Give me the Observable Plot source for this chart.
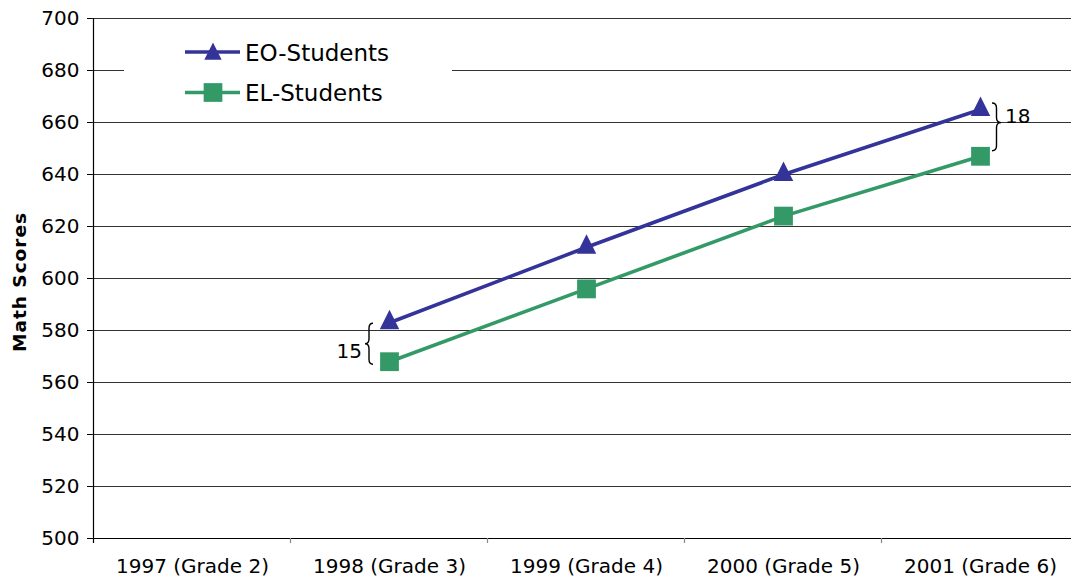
<!DOCTYPE html>
<html><head><meta charset="utf-8">
<script src="https://cdn.jsdelivr.net/npm/d3@7"></script>
<script src="https://cdn.jsdelivr.net/npm/@observablehq/plot@0.6"></script>
<style>
html,body{margin:0;padding:0;background:#fff;overflow:hidden;}
#wrap{position:relative;width:1080px;height:580px;font-family:"DejaVu Sans",Verdana,sans-serif;}
#legend{position:absolute;left:124px;top:26px;width:328px;height:86px;background:#fff;}
</style></head><body><div id="wrap"></div>
<script>
// ---- data ----
const categories = ["1997 (Grade 2)", "1998 (Grade 3)", "1999 (Grade 4)", "2000 (Grade 5)", "2001 (Grade 6)"];
const seriesNames = ["EO-Students", "EL-Students"];
const eoScores = [null, 583, 612, 640, 665];
const elScores = [null, 568, 596, 624, 647];
const seriesColors = ["#333399", "#339966"];
const yTicks = [500, 520, 540, 560, 580, 600, 620, 640, 660, 680, 700];
const yLabel = "Math Scores";
const gapCategories = ["1998 (Grade 3)", "2001 (Grade 6)"];
const gapSides = ["left", "right"];

// ---- build rows ----
function rows(values, name) {
  return categories.map((c, i) => ({cat: c, v: values[i], series: name})).filter(d => d.v != null);
}
const eoRows = rows(eoScores, seriesNames[0]);
const elRows = rows(elScores, seriesNames[1]);
const gaps = gapCategories.map((c, k) => {
  const i = categories.indexOf(c);
  return {cat: c, hi: eoScores[i], lo: elScores[i], side: gapSides[k], label: String(eoScores[i] - elScores[i])};
});

// tall isosceles triangle symbol (width == height)
const triangleSym = {
  draw(ctx, size) {
    const s = Math.sqrt(size);
    ctx.moveTo(0, -s * 2 / 3);
    ctx.lineTo(s / 2, s / 3);
    ctx.lineTo(-s / 2, s / 3);
    ctx.closePath();
  }
};

const font = '"DejaVu Sans", Verdana, sans-serif';

function framePieces(index, scales, values, dims) {
  const g = d3.create("svg:g");
  const x = scales.x, y = scales.y;
  const step = x(categories[1]) - x(categories[0]);
  const yb = y(yTicks[0]), yt = y(yTicks[yTicks.length - 1]);
  const left = x(categories[0]) - step / 2;
  g.append("line").attr("x1", left).attr("x2", left).attr("y1", yt).attr("y2", yb + 5)
    .attr("stroke", "#000").attr("stroke-width", 1.2);
  categories.forEach((c, i) => {
    const xb = x(c) + step / 2;
    g.append("line").attr("x1", xb).attr("x2", xb).attr("y1", yb).attr("y2", yb + 5)
      .attr("stroke", "#888").attr("stroke-width", 1.2);
  });
  return g.node();
}

function bracePath(xTip, xArm, y0, y1, yTip) {
  const xm = (xTip + xArm) / 2;
  const r = Math.min(5, (y1 - y0) / 4);
  return `M${xArm},${y0} Q${xm},${y0} ${xm},${y0 + r} L${xm},${yTip - r} Q${xm},${yTip} ${xTip},${yTip} ` +
         `Q${xm},${yTip} ${xm},${yTip + r} L${xm},${y1 - r} Q${xm},${y1} ${xArm},${y1}`;
}

function braces(index, scales) {
  const g = d3.create("svg:g");
  const x = scales.x, y = scales.y;
  for (const d of gaps) {
    const cx = x(d.cat);
    if (d.side === "left") {
      const y0 = y(d.hi) + 1, y1 = y(d.lo) + 3, ym = (y0 + y1) / 2;
      g.append("path").attr("d", bracePath(cx - 24, cx - 16, y0, y1, ym))
        .attr("fill", "none").attr("stroke", "#000").attr("stroke-width", 1.4);
      g.append("text").attr("x", cx - 27).attr("y", ym + 14).attr("text-anchor", "end")
        .attr("font-family", font).attr("font-size", 20).attr("fill", "#000").text(d.label);
    } else {
      const y0 = y(d.hi) - 6, y1 = y(d.lo) - 5, ym = y0 + (y1 - y0) * 0.41;
      g.append("path").attr("d", bracePath(cx + 21, cx + 12, y0, y1, ym))
        .attr("fill", "none").attr("stroke", "#000").attr("stroke-width", 1.4);
      g.append("text").attr("x", cx + 25).attr("y", ym + 0.5).attr("text-anchor", "start")
        .attr("font-family", font).attr("font-size", 20).attr("fill", "#000").text(d.label);
    }
  }
  return g.node();
}

const chart = Plot.plot({
  width: 1080,
  height: 580,
  marginLeft: 92,
  marginRight: 0,
  marginTop: 18,
  marginBottom: 42,
  style: {fontFamily: font, fontSize: "20px", color: "#000", background: "#fff", overflow: "visible"},
  x: {type: "point", domain: categories, padding: 0.5, label: null},
  y: {domain: [500, 700], label: null},
  marks: [
    Plot.gridY(yTicks, {stroke: "#333", strokeOpacity: 1, strokeWidth: 1.1}),
    Plot.ruleY([yTicks[0]], {stroke: "#000", strokeWidth: 1.2}),
    framePieces,
    Plot.axisY({ticks: yTicks, tickSize: 5, tickPadding: 8, tickFormat: d => String(d), fontSize: 20, label: null}),
    Plot.axisX({tickSize: 0, tickPadding: 20, fontSize: 20, label: null}),
    Plot.line(eoRows, {x: "cat", y: "v", stroke: seriesColors[0], strokeWidth: 3.6}),
    Plot.line(elRows, {x: "cat", y: "v", stroke: seriesColors[1], strokeWidth: 3.6}),
    Plot.dot(eoRows, {x: "cat", y: "v", symbol: triangleSym, r: 11, fill: seriesColors[0], stroke: null}),
    Plot.dot(elRows, {x: "cat", y: "v", symbol: "square", r: 10.6, fill: seriesColors[1], stroke: null}),
    braces
  ]
});

const wrap = document.getElementById("wrap");
wrap.appendChild(chart);

// y-axis title
const yt = document.createElement("div");
yt.textContent = yLabel;
Object.assign(yt.style, {position: "absolute", left: "19px", top: "282px", transform: "translate(-50%,-50%) rotate(-90deg)",
  fontFamily: font, fontWeight: "bold", fontSize: "18.5px", letterSpacing: "1px", whiteSpace: "nowrap", color: "#000"});
wrap.appendChild(yt);

// legend (inside plot area, white box)
const leg = d3.select(wrap).append("div").attr("id", "legend");
const lsvg = leg.append("svg").attr("width", 328).attr("height", 86);
const legSym = [d3.symbol(triangleSym, 300)(), d3.symbol(d3.symbolSquare, 350)()];
seriesNames.forEach((name, i) => {
  const cy = 26 + i * 40.5;
  const gi = lsvg.append("g");
  gi.append("line").attr("x1", 61).attr("x2", 116).attr("y1", cy).attr("y2", cy)
    .attr("stroke", seriesColors[i]).attr("stroke-width", 3.5);
  gi.append("path").attr("d", legSym[i]).attr("transform", `translate(89,${cy + (i === 0 ? 2 : 0)})`).attr("fill", seriesColors[i]);
  gi.append("text").attr("x", 121).attr("y", cy + 8.5).attr("font-family", font).attr("font-size", 23)
    .attr("fill", "#000").text(name);
});
</script>
</body></html>
